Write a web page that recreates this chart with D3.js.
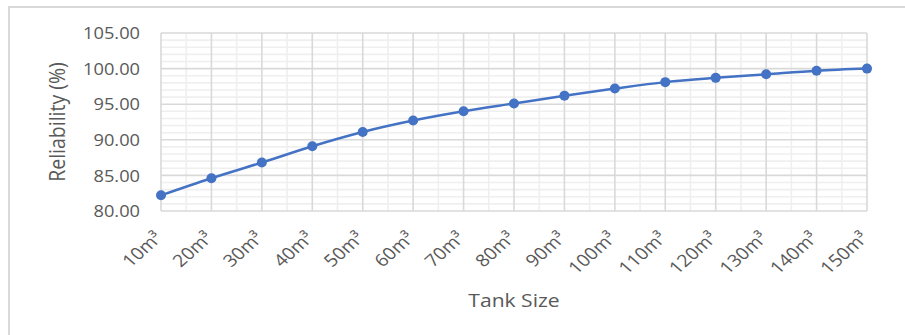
<!DOCTYPE html>
<html>
<head>
<meta charset="utf-8">
<script src="https://cdn.jsdelivr.net/npm/d3@7"></script>
<style>
  html, body { margin: 0; padding: 0; background: #fff; }
  svg { display: block; }
  text { font-family: "Open Sans", "Noto Sans", sans-serif; fill: #595959; }
</style>
</head>
<body>
<svg id="chart" width="905" height="335"></svg>
<script>
// Tank capacity categories and the reliability obtained for each
const categories = ["10", "20", "30", "40", "50", "60", "70", "80", "90", "100", "110", "120", "130", "140", "150"];
const reliability = [82.2, 84.6, 86.8, 89.1, 91.1, 92.7, 94.0, 95.1, 96.2, 97.2, 98.1, 98.7, 99.2, 99.7, 100.0];
const yTicks = [80, 85, 90, 95, 100, 105];
const yMinor = [81, 82, 83, 84, 86, 87, 88, 89, 91, 92, 93, 94, 96, 97, 98, 99, 101, 102, 103, 104];

const svg = d3.select("#chart");
const W = 905, H = 335;
const plot = { left: 161, right: 867, top: 33, bottom: 211 };
const stretch = 1.14; // text is set slightly wide

// chart frame
svg.append("rect")
  .attr("x", 9).attr("y", 7).attr("width", W + 10).attr("height", H + 10)
  .attr("fill", "#fff").attr("stroke", "#d9d9d9").attr("stroke-width", 2);

const x = d3.scalePoint().domain(categories).range([plot.left, plot.right]);
const y = d3.scaleLinear().domain([80, 105]).range([plot.bottom, plot.top]);
const step = x.step();

const grid = svg.append("g");
// minor horizontal gridlines
grid.selectAll("line.hmin").data(yMinor).join("line")
  .attr("x1", plot.left).attr("x2", plot.right)
  .attr("y1", d => y(d)).attr("y2", d => y(d))
  .attr("stroke", "#efefef").attr("stroke-width", 1.6);
// minor vertical gridlines, halfway between categories
grid.selectAll("line.vmin").data(categories.slice(1)).join("line")
  .attr("x1", d => x(d) - step / 2).attr("x2", d => x(d) - step / 2)
  .attr("y1", plot.top).attr("y2", plot.bottom)
  .attr("stroke", "#efefef").attr("stroke-width", 1.6);
// major horizontal gridlines
grid.selectAll("line.hmaj").data(yTicks).join("line")
  .attr("x1", plot.left).attr("x2", plot.right)
  .attr("y1", d => y(d)).attr("y2", d => y(d))
  .attr("stroke", "#d9d9d9").attr("stroke-width", 1.6);
// major vertical gridlines at each category
grid.selectAll("line.vmaj").data(categories).join("line")
  .attr("x1", d => x(d)).attr("x2", d => x(d))
  .attr("y1", plot.top).attr("y2", plot.bottom)
  .attr("stroke", "#d9d9d9").attr("stroke-width", 1.6);

// y axis labels
const yAxis = d3.axisLeft(y).tickValues(yTicks).tickFormat(d3.format(".2f")).tickSize(0);
const ya = svg.append("g").attr("transform", `translate(${plot.left},0)`).call(yAxis);
ya.select(".domain").remove();
ya.selectAll("text")
  .attr("font-family", "'Open Sans', sans-serif")
  .attr("font-size", 16)
  .attr("fill", "#595959")
  .attr("x", 0)
  .attr("dy", "0.36em")
  .attr("transform", `translate(-21,0) scale(${stretch},1)`);

// x axis labels, rotated
const xAxis = d3.axisBottom(x).tickSize(0).tickFormat(d => d + "m³");
const xa = svg.append("g").attr("transform", `translate(0,${plot.bottom})`).call(xAxis);
xa.select(".domain").remove();
xa.selectAll("text")
  .attr("font-family", "'Open Sans', sans-serif")
  .attr("font-size", 17)
  .attr("fill", "#595959")
  .attr("text-anchor", "end")
  .attr("dy", 0)
  .attr("y", 0)
  .attr("transform", `translate(2,28) scale(${stretch},1) rotate(-45)`);

// axis titles
svg.append("text")
  .attr("transform", `translate(65,${(plot.top + plot.bottom) / 2}) scale(${stretch},1) rotate(-90)`)
  .attr("text-anchor", "middle")
  .attr("font-size", 19.5)
  .text("Reliability (%)");
svg.append("text")
  .attr("transform", `translate(${(plot.left + plot.right) / 2},307) scale(${stretch},1)`)
  .attr("text-anchor", "middle")
  .attr("font-size", 18.5)
  .text("Tank Size");

// series line and markers
const line = d3.line()
  .x((d, i) => x(categories[i]))
  .y(d => y(d))
  .curve(d3.curveMonotoneX);
svg.append("path")
  .datum(reliability)
  .attr("d", line)
  .attr("fill", "none")
  .attr("stroke", "#4472c4")
  .attr("stroke-width", 2.5);
svg.selectAll("circle.pt").data(reliability).join("circle")
  .attr("cx", (d, i) => x(categories[i]))
  .attr("cy", d => y(d))
  .attr("r", 5)
  .attr("fill", "#4472c4");
</script>
</body>
</html>
